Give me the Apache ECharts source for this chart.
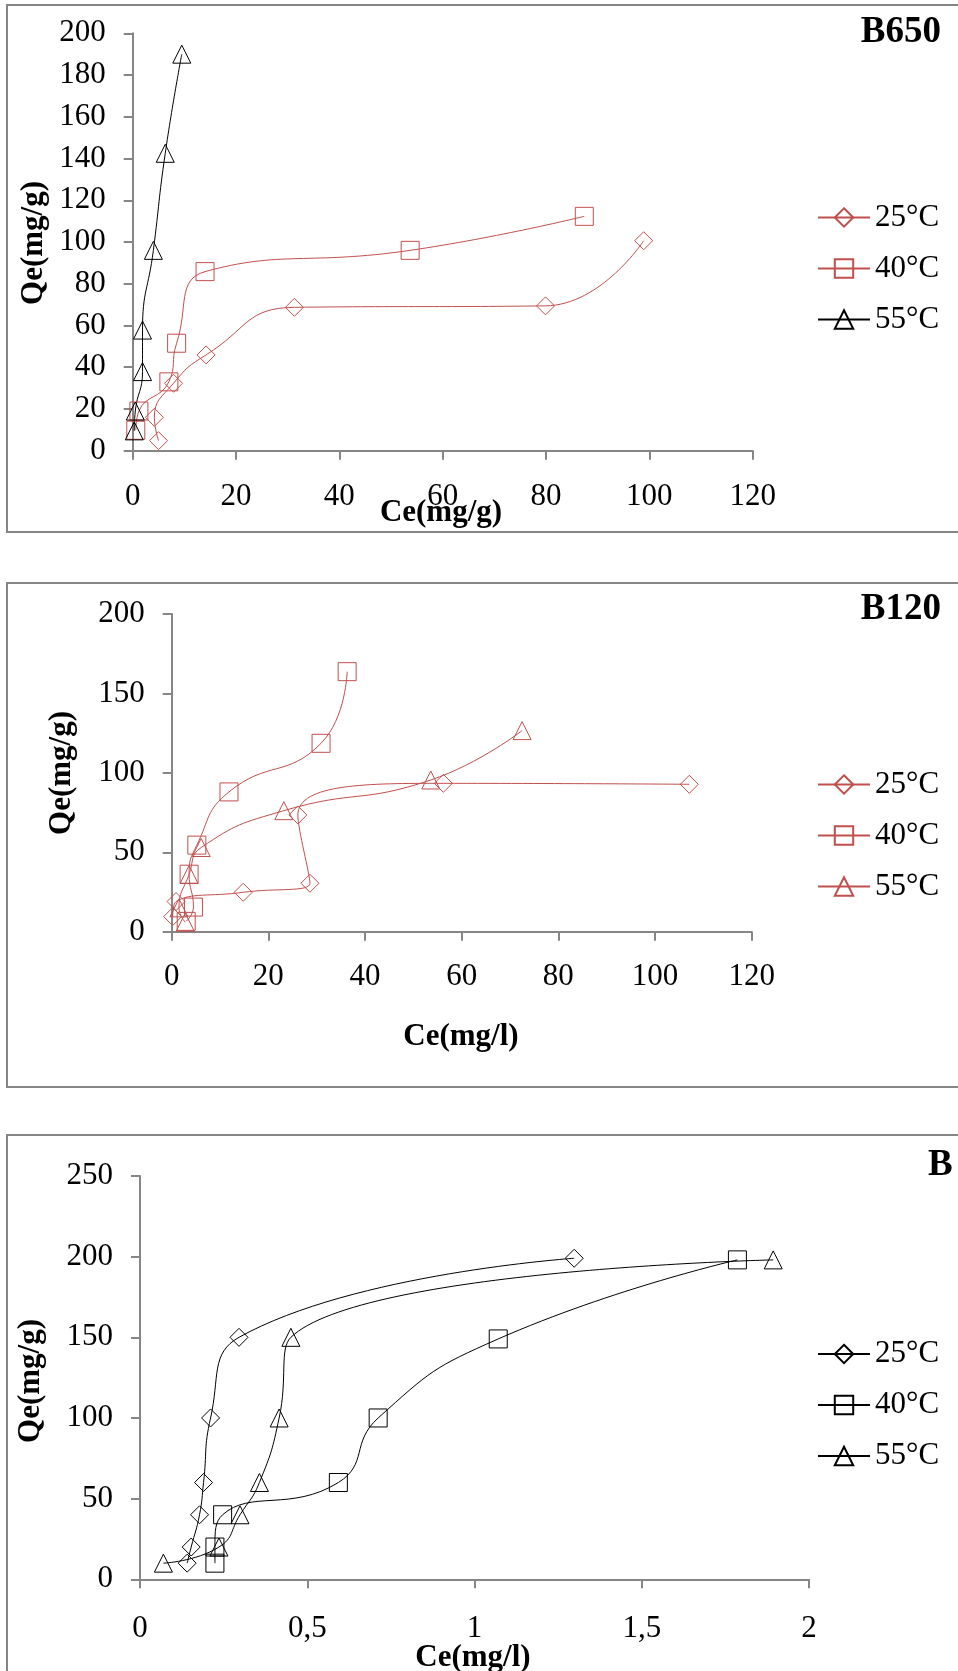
<!DOCTYPE html>
<html><head><meta charset="utf-8">
<script src="https://cdn.jsdelivr.net/npm/echarts@6/dist/echarts.min.js"></script>
<style>html,body{margin:0;padding:0;background:#fff;width:958px;height:1671px;overflow:hidden}
#c{position:absolute;left:0;top:0;width:958px;height:1671px}</style>
</head><body><div id="c"></div>
<script>
// ---- Data (Ce, Qe) ----
const tempLabels = ['25°C', '40°C', '55°C'];

// Panel B650
const b650_25_ce = [5.0, 4.2, 7.9, 14.2, 31.3, 79.9, 98.9];
const b650_25_qe = [4.8, 16, 32.3, 45.9, 68.7, 69.4, 100.6];
const b650_40_ce = [0.6, 1.2, 7.0, 8.5, 14.0, 53.7, 87.4];
const b650_40_qe = [9.8, 19, 33, 51.5, 85.8, 96, 112.3];
const b650_55_ce = [0.3, 0.5, 1.9, 1.9, 4.0, 6.3, 9.5];
const b650_55_qe = [9.5, 19, 37.9, 57.8, 96, 142.5, 190];

// Panel B120
const b120_25_ce = [0.2, 0.9, 14.8, 28.6, 26.1, 56.2, 107.1];
const b120_25_qe = [9.5, 19, 24.8, 30.5, 73.5, 93.4, 92.8];
const b120_40_ce = [3.0, 4.5, 3.6, 5.2, 11.85, 30.9, 36.3];
const b120_40_qe = [6.5, 15.5, 36.2, 54.5, 88, 118.6, 163.7];
const b120_55_ce = [2.8, 1.5, 3.6, 6.1, 23.2, 53.6, 72.5];
const b120_55_qe = [6, 15, 36, 53, 76.2, 95.5, 126.6];

// Panel B
const b_25_ce = [0.141, 0.153, 0.178, 0.19, 0.211, 0.296, 1.298];
const b_25_qe = [10, 20, 40, 60, 100, 150, 199];
const b_40_ce = [0.224, 0.224, 0.247, 0.593, 0.712, 1.071, 1.786];
const b_40_qe = [10, 20, 40, 60, 100, 149, 198];
const b_55_ce = [0.07, 0.236, 0.299, 0.357, 0.416, 0.451, 1.893];
const b_55_qe = [10, 20, 40, 60, 100, 150, 198];

// Axis settings
const panelTitles = ['B650', 'B120', 'B'];
const xTitles = ['Ce(mg/g)', 'Ce(mg/l)', 'Ce(mg/l)'];
const yTitle = 'Qe(mg/g)';
const xMax = [120, 120, 2];
const xInterval = [20, 20, 0.5];
const yMax = [200, 200, 250];
const yInterval = [20, 50, 50];

// ---- Styling / layout ----
const FONT = 'Liberation Serif';
const RED = '#C0504D';
const BLACK = '#000000';
const AX = '#868686';
const grids = [
  {left: 132.7, top: 33.3, width: 620, height: 417.4},
  {left: 171.7, top: 614, width: 580, height: 317.7},
  {left: 140, top: 1176, width: 669, height: 403.3}
];
const xLabelMargin = [31, 30, 34];
const legendTops = [202, 769, 1338.5];
const symbols = ['diamond', 'rect', 'triangle'];

function zip(a, b) { return a.map((v, i) => [v, b[i]]); }

const panelData = [
  [[b650_25_ce, b650_25_qe], [b650_40_ce, b650_40_qe], [b650_55_ce, b650_55_qe]],
  [[b120_25_ce, b120_25_qe], [b120_40_ce, b120_40_qe], [b120_55_ce, b120_55_qe]],
  [[b_25_ce, b_25_qe], [b_40_ce, b_40_qe], [b_55_ce, b_55_qe]]
];
const panelColors = [[RED, RED, BLACK], [RED, RED, RED], [BLACK, BLACK, BLACK]];

const xAxes = [], yAxes = [], series = [], legends = [];
for (let p = 0; p < 3; p++) {
  xAxes.push({
    type: 'value', gridIndex: p, min: 0, max: xMax[p], interval: xInterval[p],
    axisLine: {show: true, onZero: false, lineStyle: {color: AX, width: 2}},
    axisTick: {show: true, length: 9, lineStyle: {color: AX, width: 2}},
    splitLine: {show: false},
    axisLabel: {fontFamily: FONT, fontSize: 31, color: '#000', margin: xLabelMargin[p],
      formatter: v => String(v).replace('.', ',')}
  });
  yAxes.push({
    type: 'value', gridIndex: p, min: 0, max: yMax[p], interval: yInterval[p],
    axisLine: {show: true, onZero: false, lineStyle: {color: AX, width: 2}},
    axisTick: {show: true, length: 9, lineStyle: {color: AX, width: 2}},
    splitLine: {show: false},
    axisLabel: {fontFamily: FONT, fontSize: 31, color: '#000', margin: 27}
  });
  const names = [];
  for (let s = 0; s < 3; s++) {
    const nm = panelTitles[p] + '|' + tempLabels[s];
    names.push(nm);
    const col = panelColors[p][s];
    series.push({
      name: nm, type: 'line', xAxisIndex: p, yAxisIndex: p,
      data: zip(panelData[p][s][0], panelData[p][s][1]),
      smooth: 0.5, symbol: symbols[s], symbolSize: 18,
      lineStyle: {color: col, width: 1},
      itemStyle: {color: 'rgba(255,255,255,0)', borderColor: col, borderWidth: 1},
      emphasis: {disabled: true}, animation: false, z: 3
    });
  }
  legends.push({
    data: names, orient: 'vertical', left: 817, top: legendTops[p], padding: 0,
    itemWidth: 52, itemHeight: 23, itemGap: 20, selectedMode: false,
    formatter: n => n.split('|')[1],
    textStyle: {fontFamily: FONT, fontSize: 31, color: '#000', lineHeight: 31, padding: [0, 0, 0, 0]}
  });
}

const graphics = [
  {type: 'rect', shape: {x: 7, y: 5, width: 1000, height: 527}, style: {fill: 'none', stroke: AX, lineWidth: 2}, silent: true},
  {type: 'rect', shape: {x: 7, y: 583, width: 1000, height: 504}, style: {fill: 'none', stroke: AX, lineWidth: 2}, silent: true},
  {type: 'rect', shape: {x: 7, y: 1135, width: 1000, height: 600}, style: {fill: 'none', stroke: AX, lineWidth: 2}, silent: true},
  // panel titles
  {type: 'text', right: 17, top: 14, style: {text: panelTitles[0], font: 'bold 37px "Liberation Serif"', fill: '#000'}},
  {type: 'text', right: 17, top: 591, style: {text: panelTitles[1], font: 'bold 37px "Liberation Serif"', fill: '#000'}},
  {type: 'text', left: 928, top: 1147, style: {text: panelTitles[2], font: 'bold 37px "Liberation Serif"', fill: '#000'}},
  // x titles
  {type: 'text', x: 441, y: 513, style: {text: xTitles[0], font: 'bold 31px "Liberation Serif"', fill: '#000', textAlign: 'center', textVerticalAlign: 'middle'}},
  {type: 'text', x: 461, y: 1037, style: {text: xTitles[1], font: 'bold 31px "Liberation Serif"', fill: '#000', textAlign: 'center', textVerticalAlign: 'middle'}},
  {type: 'text', x: 473, y: 1658, style: {text: xTitles[2], font: 'bold 31px "Liberation Serif"', fill: '#000', textAlign: 'center', textVerticalAlign: 'middle'}},
  // y titles
  {type: 'text', x: 34, y: 243, rotation: Math.PI / 2, style: {text: yTitle, font: 'bold 31px "Liberation Serif"', fill: '#000', textAlign: 'center', textVerticalAlign: 'middle'}},
  {type: 'text', x: 62, y: 773, rotation: Math.PI / 2, style: {text: yTitle, font: 'bold 31px "Liberation Serif"', fill: '#000', textAlign: 'center', textVerticalAlign: 'middle'}},
  {type: 'text', x: 31, y: 1381, rotation: Math.PI / 2, style: {text: yTitle, font: 'bold 31px "Liberation Serif"', fill: '#000', textAlign: 'center', textVerticalAlign: 'middle'}}
];

const chart = echarts.init(document.getElementById('c'), null, {renderer: 'canvas'});
chart.setOption({
  animation: false,
  backgroundColor: '#fff',
  grid: grids,
  xAxis: xAxes,
  yAxis: yAxes,
  legend: legends,
  series: series,
  graphic: graphics
});
</script></body></html>
